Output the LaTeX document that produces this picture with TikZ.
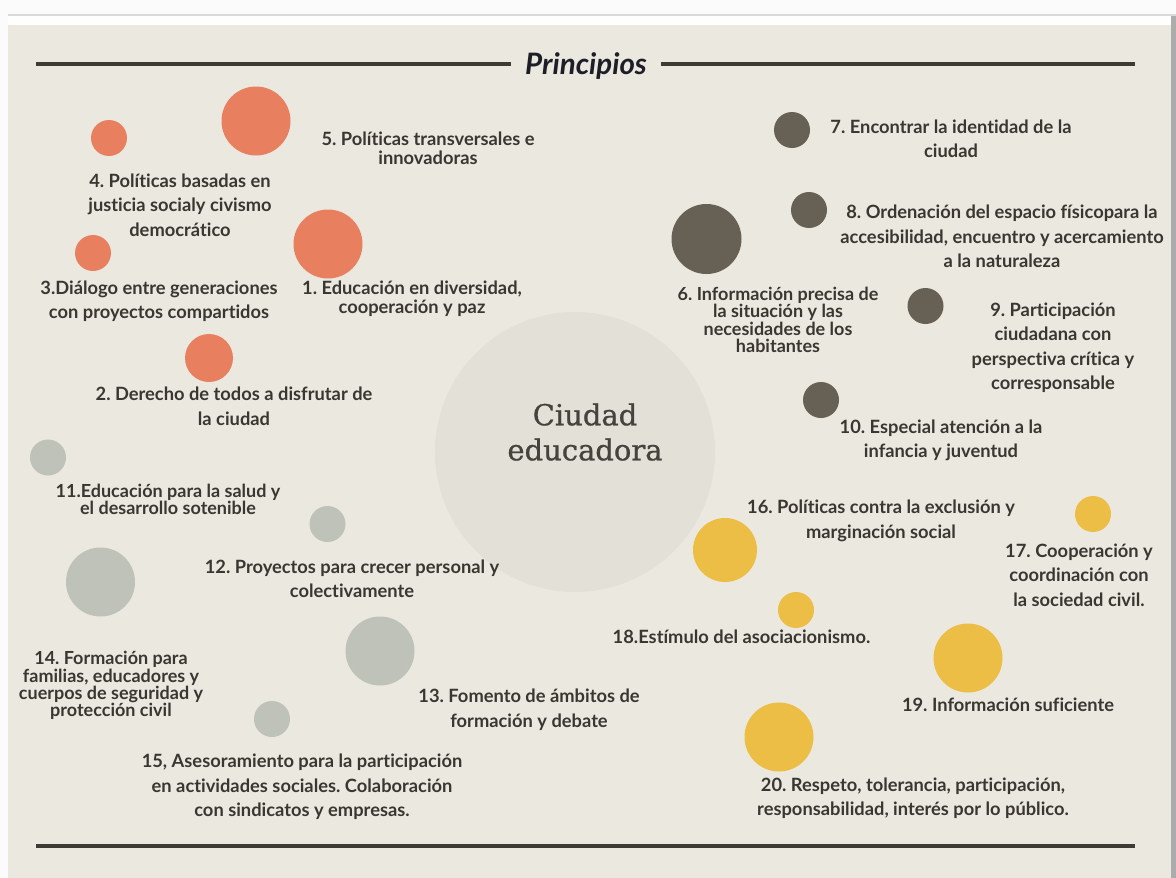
\documentclass[tikz,border=0pt]{standalone}
\usepackage{fontspec}
\setmainfont{Lato}[Ligatures=NoCommon]
\newfontfamily\ctrfont{DejaVu Serif}[FakeBold=0.8]
\definecolor{bgc}{RGB}{235,232,224}
\definecolor{ctrc}{RGB}{227,224,216}
\definecolor{orng}{RGB}{232,128,96}
\definecolor{drk}{RGB}{103,96,85}
\definecolor{gry}{RGB}{190,194,184}
\definecolor{ylw}{RGB}{237,190,69}
\definecolor{txt}{RGB}{58,54,48}
\definecolor{ctxt}{RGB}{70,66,60}
\definecolor{rulec}{RGB}{62,58,52}
\definecolor{ttl}{RGB}{30,30,40}
\frenchspacing
\tikzset{
  bub/.style={circle, draw=none, inner sep=0pt, minimum size=#1},
  lbl/.style={font=\bfseries\fontsize{18.3}{24.5}\selectfont, text=txt, align=center, inner sep=0pt},
  lbltight/.style={font=\bfseries\fontsize{18}{17.3}\selectfont, text=txt, align=center, inner sep=0pt},
  lblmid/.style={font=\bfseries\fontsize{18.3}{19}\selectfont, text=txt, align=center, inner sep=0pt},
  hrule/.style={draw=rulec, line width=4pt}
}
\begin{document}
\begin{tikzpicture}[x=1pt,y=-1pt]
\useasboundingbox (0,0) rectangle (1176,878);
% page background
\fill[white!97!gray] (0,0) rectangle (1176,878);
\fill[gray!30] (8,13.5) rectangle (1176,15.5);
\fill[white!95!bgc] (8,15.5) rectangle (1171,25);
\fill[bgc] (8,25) rectangle (1171,878);
\fill[gray!65] (1171,15.5) rectangle (1176,878);
% title and rules
\node[font=\bfseries\itshape\fontsize{29.5}{32}\selectfont, text=ttl, inner sep=0pt] (title) at (586,66) {Principios};
\coordinate (tl1) at (36,64);
\coordinate (tl2) at (511,64);
\coordinate (tr1) at (661,64);
\coordinate (tr2) at (1135,64);
\draw[hrule] (tl1) -- (tl2);
\draw[hrule] (tr1) -- (tr2);
\coordinate (bl1) at (36,846);
\coordinate (bl2) at (1135,846);
\draw[hrule] (bl1) -- (bl2);
% center
\node[bub=280pt, fill=ctrc] (ctr) at (575,452) {};
\node[font=\ctrfont\fontsize{29}{35}\selectfont, text=ctxt, align=center, inner sep=0pt] (ctrtxt) at (585,432) {Ciudad\\educadora};
% orange
\node[bub=69pt, fill=orng] (c5) at (256,121) {};
\node[bub=36pt, fill=orng] (c4) at (109,138) {};
\node[bub=69pt, fill=orng] (c1) at (328,244) {};
\node[bub=36pt, fill=orng] (c3) at (93,253) {};
\node[bub=48pt, fill=orng] (c2) at (209,358) {};
% dark
\node[bub=36pt, fill=drk] (c7) at (792,130) {};
\node[bub=36pt, fill=drk] (c8) at (809,210) {};
\node[bub=70pt, fill=drk] (c6) at (706.5,239) {};
\node[bub=36pt, fill=drk] (c9) at (925.5,306) {};
\node[bub=36pt, fill=drk] (c10) at (821,400) {};
% gray
\node[bub=36pt, fill=gry] (c11) at (48,457.5) {};
\node[bub=36pt, fill=gry] (c12) at (327.5,524) {};
\node[bub=69pt, fill=gry] (c14) at (100.5,582) {};
\node[bub=69pt, fill=gry] (c13) at (380,651) {};
\node[bub=36pt, fill=gry] (c15) at (272,719) {};
% yellow
\node[bub=64pt, fill=ylw] (c16) at (725,550) {};
\node[bub=36pt, fill=ylw] (c17) at (1093,514) {};
\node[bub=36pt, fill=ylw] (c18) at (796,610) {};
\node[bub=69pt, fill=ylw] (c19) at (968,658) {};
\node[bub=69pt, fill=ylw] (c20) at (779,737) {};
% labels
\node[lblmid] (t5) at (428,148.5) {5. Políticas transversales e\\innovadoras};
\node[lbl] (t4) at (180,205) {4. Políticas basadas en\\justicia socialy civismo\\democrático};
\node[lbl] (t3) at (159,301) {3.Diálogo entre generaciones\\con proyectos compartidos};
\node[lblmid] (t1) at (412,299) {1. Educación en diversidad,\\cooperación y paz};
\node[lbl] (t2) at (234,406.5) {2. Derecho de todos a disfrutar de\\la ciudad};
\node[lbl] (t7) at (951,139) {7. Encontrar la identidad de la\\ciudad};
\node[lbl] (t8) at (1002,236.5) {8. Ordenación del espacio físicopara la\\accesibilidad, encuentro y acercamiento\\a la naturaleza};
\node[lbltight] (t6) at (778,320) {6. Información precisa de\\la situación y las\\necesidades de los\\habitantes};
\node[lbl] (t9) at (1053,347.5) {9. Participación\\ciudadana con\\perspectiva crítica y\\corresponsable};
\node[lbl] (t10) at (941,440.5) {10. Especial atención a la\\infancia y juventud};
\node[lbltight] (t11) at (168,499.5) {11.Educación para la salud y\\el desarrollo sotenible};
\node[lbl] (t12) at (352,579) {12. Proyectos para crecer personal y\\colectivamente};
\node[lbltight] (t14) at (111,685.5) {14. Formación para\\familias, educadores y\\cuerpos de seguridad y\\protección civil};
\node[lbl] (t13) at (529,709.5) {13. Fomento de ámbitos de\\formación y debate};
\node[lbl] (t15) at (302,787) {15, Asesoramiento para la participación\\en actividades sociales. Colaboración\\con sindicatos y empresas.};
\node[lbl] (t16) at (881,521) {16. Políticas contra la exclusión y\\marginación social};
\node[lbl] (t17) at (1079,575) {17. Cooperación y\\coordinación con\\la sociedad civil.};
\node[lbl] (t18) at (741.5,637) {18.Estímulo del asociacionismo.};
\node[lbl] (t19) at (1008,705) {19. Información suficiente};
\node[lbl] (t20) at (913,798) {20. Respeto, tolerancia, participación,\\responsabilidad, interés por lo público.};
\end{tikzpicture}
\end{document}
